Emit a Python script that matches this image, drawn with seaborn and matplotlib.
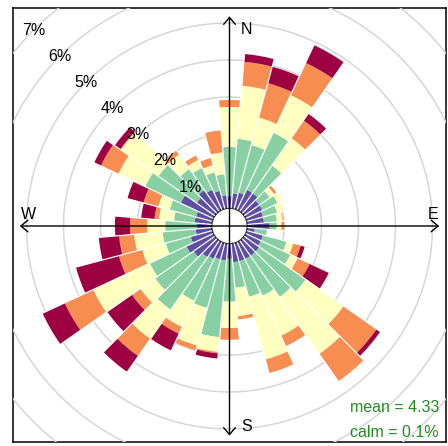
import numpy as np
import matplotlib
matplotlib.use("Agg")
import matplotlib.pyplot as plt
import seaborn as sns

sns.set_theme(style="white")
plt.rcParams["font.family"] = ["Liberation Sans", "DejaVu Sans"]

# ---------------- data (frequency %, per direction and speed bin) ----------------
directions = list(range(10, 370, 10))
speed_bins = ["bin1", "bin2", "bin3", "bin4", "bin5"]
freq_bin1 = [0.40, 0.45, 0.60, 0.60, 0.50, 0.50, 0.45, 0.45, 0.60, 0.20, 0.45, 0.45,
             0.50, 0.50, 0.50, 0.50, 0.50, 0.40, 0.45, 0.45, 0.50, 0.55, 0.70, 0.80,
             0.60, 0.43, 0.39, 0.46, 0.45, 0.97, 0.60, 0.70, 0.60, 0.50, 0.35, 0.32]
freq_bin2 = [1.48, 1.33, 1.70, 0.91, 0.35, 0.45, 0.40, 0.35, 0.19, 0.33, 0.66, 0.88,
             1.53, 1.36, 1.10, 1.00, 0.69, 1.16, 2.08, 1.36, 1.25, 1.73, 1.27, 1.09,
             0.70, 0.90, 0.86, 0.56, 0.74, 1.06, 1.26, 0.70, 0.65, 0.52, 0.57, 1.33]
freq_bin3 = [1.44, 0.77, 1.12, 0.91, 0.15, 0.15, 0.20, 0.15, 0.13, 0.00, 0.19, 0.22,
             1.25, 1.88, 1.19, 1.75, 0.77, 0.71, 0.40, 1.05, 0.78, 0.96, 0.49, 1.69,
             0.66, 0.77, 0.49, 0.41, 0.32, 0.80, 1.24, 0.48, 0.24, 0.20, 0.59, 1.08]
freq_bin4 = [0.65, 0.96, 0.96, 0.58, 0.07, 0.00, 0.00, 0.02, 0.07, 0.00, 0.21, 0.36,
             1.09, 0.90, 0.31, 0.38, 0.09, 0.32, 0.04, 0.13, 0.20, 0.57, 0.28, 0.85,
             0.65, 0.41, 0.46, 0.12, 0.41, 0.52, 0.02, 0.12, 0.13, 0.20, 0.60, 0.19]
freq_bin5 = [0.21, 0.46, 0.53, 0.22, 0.00, 0.00, 0.00, 0.00, 0.00, 0.00, 0.11, 0.57,
             0.12, 0.00, 0.00, 0.00, 0.00, 0.00, 0.14, 0.00, 0.50, 0.52, 0.81, 0.66,
             1.20, 0.55, 0.41, 0.36, 0.45, 0.20, 0.18, 0.00, 0.00, 0.00, 0.00, 0.00]
grid_levels = [1, 2, 3, 4, 5, 6, 7, 8]
label_levels = [1, 2, 3, 4, 5, 6, 7]
compass = ["N", "E", "S", "W"]
mean_text = "mean = 4.33"
calm_text = "calm = 0.1%"

palette = sns.color_palette(["#5E4FA2", "#88CFA4", "#FFFFBF", "#F88D52", "#9E0142"])

# ---------------- layout ----------------
W, H = 448, 446
fig = plt.figure(figsize=(W / 100, H / 100), dpi=100)
fig.patch.set_facecolor("white")

fx0, fx1, fy0, fy1 = 13, 446, 8, 442
frame_ax = fig.add_axes([fx0 / W, 1 - fy1 / H, (fx1 - fx0) / W, (fy1 - fy0) / H])
frame_ax.set_xticks([])
frame_ax.set_yticks([])
frame_ax.set_facecolor("white")
for sp in frame_ax.spines.values():
    sp.set_color("black")
    sp.set_linewidth(1.1)

cx, cy = 229.5, 226.0
R0, SC, RMAX = 18.0, 37.0, 8.0
Rpx = R0 + SC * RMAX
ax = fig.add_axes([(cx - Rpx) / W, 1 - (cy + Rpx) / H, 2 * Rpx / W, 2 * Rpx / H],
                  projection="polar")
ax.set_theta_zero_location("N")
ax.set_theta_direction(-1)
ax.set_ylim(0, RMAX)
ax.set_rorigin(-R0 / SC)
ax.patch.set_alpha(0)
ax.grid(False)
ax.set_xticks([])
ax.set_yticks([])
ax.spines["polar"].set_visible(False)

# grid circles
th = np.linspace(0, 2 * np.pi, 1441)
for k in grid_levels:
    ln, = ax.plot(th, np.full_like(th, k), color="#d6d6d6", lw=1.1, zorder=1)
    ln.set_clip_path(frame_ax.patch)

# stacked wedges
theta = np.deg2rad(directions)
bins = [freq_bin1, freq_bin2, freq_bin3, freq_bin4, freq_bin5]
bottom = np.zeros(len(directions))
for vals, col in zip(bins, palette):
    vals = np.asarray(vals)
    ax.bar(theta, vals, width=np.deg2rad(10), bottom=bottom, color=col,
           edgecolor="none", linewidth=0, align="center", zorder=2, antialiased=True)
    bottom = bottom + vals
totals = bottom

# white separators between wedges
for i in range(len(directions)):
    j = (i + 1) % len(directions)
    tb = np.deg2rad(directions[i] + 5)
    ax.plot([tb, tb], [-R0 / SC, max(totals[i], totals[j]) + 0.05],
            color="white", lw=0.85, zorder=3, solid_capstyle="butt")

# compass arrows
tip = 5.18
for ang, lab, off in zip([0, 90, 180, 270], compass,
                         [(12, -9.5), (-4.3, 8.6), (12, 6.5), (6.5, 8.0)]):
    ax.annotate("", xy=(np.deg2rad(ang), tip), xytext=(0, -R0 / SC),
                arrowprops=dict(arrowstyle="->,head_length=0.5,head_width=0.42",
                                lw=1.0, color="black", shrinkA=0, shrinkB=0,
                                mutation_scale=10),
                annotation_clip=False, zorder=4)
    ax.annotate(lab, xy=(np.deg2rad(ang), tip), xytext=off, textcoords="offset points",
                ha="center", va="center", fontsize=11.5, color="black",
                annotation_clip=False, zorder=5)

# percentage labels
for k in label_levels:
    ax.text(np.deg2rad(315), k, f"{k}%", ha="center", va="center",
            fontsize=11.5, color="black", zorder=5)

fig.text(439 / W, 1 - 411.7 / H, mean_text, ha="right", va="baseline",
         color="forestgreen", fontsize=11.5)
fig.text(439 / W, 1 - 436.7 / H, calm_text, ha="right", va="baseline",
         color="forestgreen", fontsize=11.5)

fig.savefig("out.png", dpi=100, facecolor="white")
